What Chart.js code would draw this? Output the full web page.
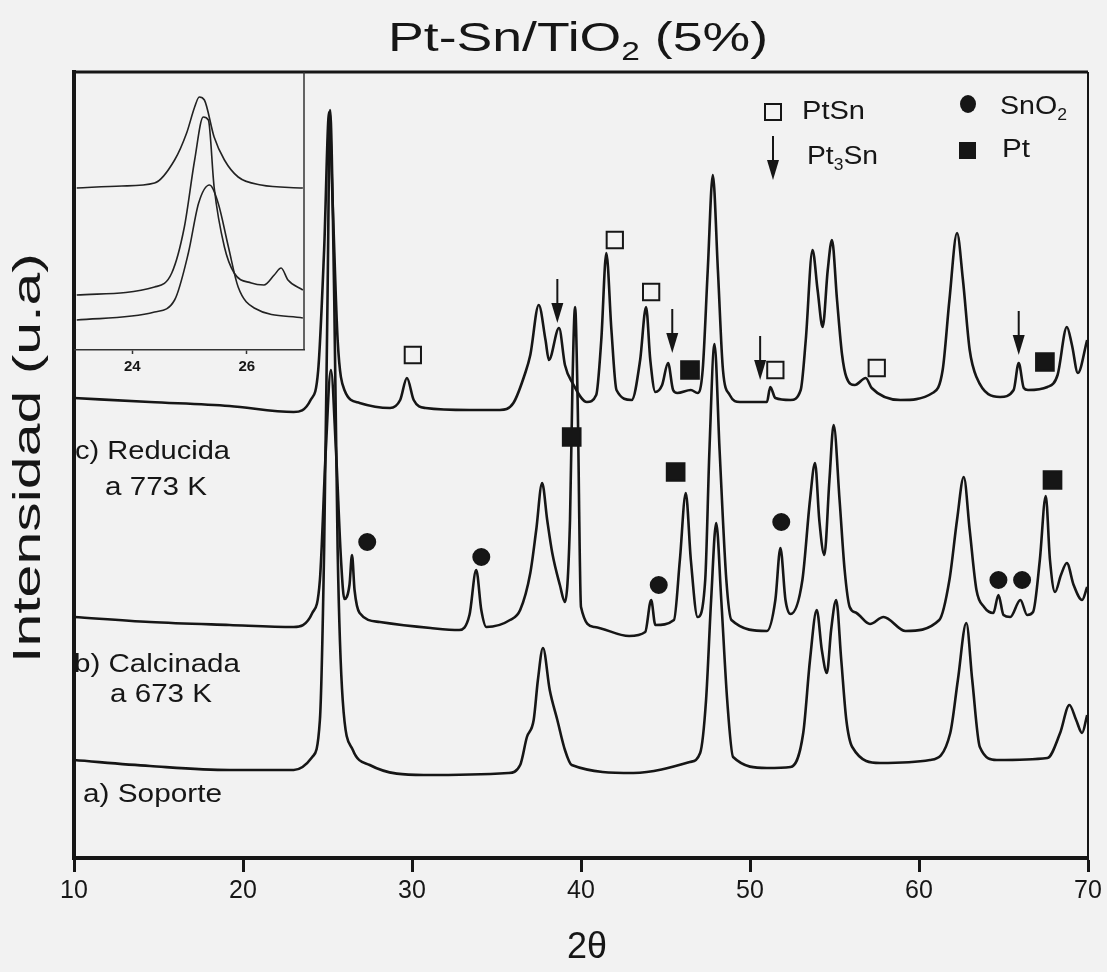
<!DOCTYPE html>
<html>
<head>
<meta charset="utf-8">
<script src="https://cdn.jsdelivr.net/npm/chart.js@4.4.0/dist/chart.umd.min.js"></script>
<style>
  html, body { margin: 0; padding: 0; background: #f2f2f2; }
  #wrap { position: relative; width: 1107px; height: 972px; overflow: hidden; }
  #main { position: absolute; left: 0; top: 0; }
  #inset { position: absolute; left: 73px; top: 72px; }
</style>
</head>
<body>
<div id="wrap">
  <canvas id="main" width="1107" height="972"></canvas>
  <canvas id="inset" width="232" height="310"></canvas>
</div>
<script>
// 2theta (deg) / intensity (a.u., traces stacked with offsets)
const reducida = [
  [10.0,460],[14.5,456],[19.2,452],[23.0,446],[24.0,458],[24.45,488],[24.8,608],[25.1,746],
  [25.3,658],[25.6,518],[26.0,468],[26.9,455],[28.7,450],[29.3,458],[29.7,480],[30.1,458],
  [30.8,450],[33.4,448],[35.2,448],[36.0,455],[36.7,485],[37.0,503],[37.5,553],[37.9,518],
  [38.1,498],[38.7,530],[39.05,493],[39.5,475],[40.35,456],[40.9,463],[41.2,518],[41.5,605],
  [41.8,528],[42.1,468],[43.0,458],[43.5,498],[43.85,551],[44.1,498],[44.4,466],[44.8,473],
  [45.15,495],[45.45,468],[45.7,465],[46.5,468],[46.9,465],[47.2,488],[47.5,588],[47.8,683],
  [48.1,588],[48.4,488],[48.8,463],[49.4,456],[51.0,456],[51.2,471],[51.5,460],[52.4,458],
  [53.0,468],[53.3,518],[53.7,608],[54.0,568],[54.3,531],[54.6,588],[54.85,618],[55.15,558],
  [55.45,503],[55.7,481],[56.2,473],[56.85,480],[57.2,470],[58.9,458],[60.8,465],[61.4,488],
  [61.8,558],[62.25,625],[62.6,578],[63.0,508],[63.4,481],[64.8,461],[65.6,468],[65.9,495],
  [66.2,470],[66.45,468],[67.6,471],[68.2,483],[68.75,531],[69.05,513],[69.4,485],[69.95,518]
];
const calcinada = [
  [10.0,241],[14.5,236],[19.2,233],[23.0,231],[24.1,245],[24.55,278],[24.9,408],[25.2,488],
  [25.5,408],[25.8,298],[26.0,259],[26.3,273],[26.45,303],[26.6,268],[26.9,245],[28.1,236],
  [31.1,230],[32.8,228],[33.4,243],[33.8,288],[34.1,248],[34.4,231],[35.8,238],[36.4,248],
  [37.0,285],[37.35,328],[37.7,375],[38.0,338],[38.3,305],[38.75,273],[39.05,256],[39.35,338],
  [39.5,478],[39.65,551],[39.8,458],[40.0,251],[40.8,231],[42.85,222],[43.8,226],[44.15,258],
  [44.4,233],[45.5,238],[45.85,298],[46.2,365],[46.5,298],[46.9,241],[47.35,278],[47.6,408],
  [47.9,514],[48.2,408],[48.6,278],[48.9,238],[51.0,227],[51.5,258],[51.8,310],[52.1,258],
  [52.4,244],[53.1,278],[53.55,358],[53.85,395],[54.1,338],[54.4,303],[54.7,378],[54.95,433],
  [55.3,358],[55.6,288],[55.9,251],[56.3,245],[57.1,234],[57.9,241],[59.2,227],[61.2,238],
  [61.8,278],[62.25,338],[62.65,381],[63.0,328],[63.4,268],[63.85,251],[64.4,245],[64.7,263],
  [65.0,243],[65.4,241],[66.0,258],[66.4,243],[66.75,246],[67.15,298],[67.5,362],[67.75,298],
  [68.05,266],[68.4,283],[68.75,295],[69.15,273],[69.65,258],[69.95,271]
];
const soporte = [
  [10.0,98],[14.5,92],[19.2,88],[23.0,88],[24.1,101],[24.55,138],[24.8,308],[25.0,558],
  [25.15,748],[25.4,558],[25.6,308],[25.9,158],[26.5,108],[27.5,93],[30.7,83],[35.7,85],
  [36.4,93],[36.8,121],[37.2,138],[37.45,178],[37.75,210],[38.15,168],[38.6,138],[39.05,108],
  [39.45,93],[43.1,85],[46.45,96],[47.05,105],[47.4,158],[47.7,258],[48.0,335],[48.3,258],
  [48.65,158],[49.0,101],[51.0,90],[52.4,91],[53.15,125],[53.55,198],[53.95,248],[54.25,208],
  [54.55,185],[54.8,228],[55.1,258],[55.4,198],[55.7,138],[56.05,111],[57.7,95],[60.65,98],
  [61.85,125],[62.3,178],[62.8,235],[63.15,178],[63.6,111],[64.6,98],[67.6,100],[68.35,125],
  [68.9,153],[69.3,138],[69.65,125],[69.95,143]
];

// phase markers (2theta, intensity)
const ptsnMarks = [[30.05,503],[42.0,618],[44.15,566],[51.5,488],[57.5,490]];
const ptMarks = [[39.45,421],[45.6,386],[46.45,488],[67.45,496],[67.9,378]];
const sno2Marks = [[27.35,316],[34.1,301],[44.6,273],[51.85,336],[64.7,278],[66.1,278]];
const pt3snArrows = [[38.6,535],[45.4,505],[50.6,478],[65.9,503]];

const xTicks = [10, 20, 30, 40, 50, 60, 70];

// inset: zoom of the anatase (101) peak
const insetReducida = [
  [23.03,162],[23.82,164],[24.39,167],[24.74,190],[24.95,217],[25.09,243],[25.17,253],[25.26,250],
  [25.43,213],[25.61,190],[25.85,173],[26.25,165],[26.98,162]
];
const insetCalcinada = [
  [23.03,55],[24.39,63],[24.69,77],[24.91,123],[25.09,190],[25.24,233],[25.33,230],[25.43,163],
  [25.61,103],[25.78,77],[26.08,67],[26.3,65],[26.48,75],[26.6,82],[26.72,70],[26.98,60]
];
const insetSoporte = [
  [23.03,30],[24.39,38],[24.74,50],[24.98,97],[25.16,147],[25.35,165],[25.5,147],[25.68,103],
  [25.85,63],[26.13,42],[26.98,32]
];
const insetTicks = [24, 26];

const INK = '#161616';
const PAPER = '#f2f2f2';
const FONT = '"Liberation Sans", Arial, sans-serif';

const toXY = arr => arr.map(p => ({x: p[0], y: p[1]}));

// text squeezed/stretched to the width it has in the scan, with optional subscripts
function drawRich(ctx, parts, x, y, size, width, align) {
  let natural = 0;
  for (const p of parts) {
    ctx.font = `${p.sub ? Math.round(size * 0.62) : size}px ${FONT}`;
    natural += ctx.measureText(p.t).width;
  }
  const k = width ? width / natural : 1;
  const start = align === 'center' ? x - natural * k / 2 : x;
  ctx.save();
  ctx.translate(start, y);
  ctx.scale(k, 1);
  ctx.fillStyle = INK;
  ctx.textBaseline = 'middle';
  ctx.textAlign = 'left';
  let cx = 0;
  for (const p of parts) {
    ctx.font = `${p.sub ? Math.round(size * 0.62) : size}px ${FONT}`;
    ctx.fillText(p.t, cx, p.sub ? size * 0.34 : 0);
    cx += ctx.measureText(p.t).width;
  }
  ctx.restore();
}

function drawArrow(ctx, x, tipY) {
  ctx.save();
  ctx.strokeStyle = INK;
  ctx.fillStyle = INK;
  ctx.lineWidth = 2;
  ctx.beginPath();
  ctx.moveTo(x, tipY - 44);
  ctx.lineTo(x, tipY - 16);
  ctx.stroke();
  ctx.beginPath();
  ctx.moveTo(x - 6, tipY - 20);
  ctx.lineTo(x + 6, tipY - 20);
  ctx.lineTo(x, tipY);
  ctx.closePath();
  ctx.fill();
  ctx.restore();
}

const decor = {
  id: 'decor',
  afterDraw(chart) {
    const ctx = chart.ctx;
    const {left, right, top, bottom} = chart.chartArea;
    const xs = chart.scales.x, ys = chart.scales.y;

    // frame: top and right edges
    ctx.save();
    ctx.strokeStyle = INK;
    ctx.lineWidth = 3;
    ctx.beginPath();
    ctx.moveTo(left - 2, top);
    ctx.lineTo(right, top);
    ctx.stroke();
    ctx.lineWidth = 2;
    ctx.beginPath();
    ctx.moveTo(right, top);
    ctx.lineTo(right, bottom);
    ctx.stroke();
    ctx.restore();

    // Pt3Sn arrows
    for (const a of pt3snArrows) {
      drawArrow(ctx, xs.getPixelForValue(a[0]), ys.getPixelForValue(a[1]));
    }

    // key
    ctx.save();
    ctx.strokeStyle = INK;
    ctx.lineWidth = 2;
    ctx.fillStyle = PAPER;
    ctx.fillRect(765, 104, 16, 16);
    ctx.strokeRect(765, 104, 16, 16);
    ctx.fillStyle = INK;
    ctx.fillRect(959, 142, 17, 17);
    ctx.beginPath();
    ctx.ellipse(968, 104, 8, 9, 0, 0, Math.PI * 2);
    ctx.fill();
    ctx.restore();
    drawArrow(ctx, 773, 180);
    drawRich(ctx, [{t: 'PtSn'}], 802, 112, 26, 63);
    drawRich(ctx, [{t: 'Pt'}, {t: '3', sub: true}, {t: 'Sn'}], 807, 157, 26, 71);
    drawRich(ctx, [{t: 'SnO'}, {t: '2', sub: true}], 1000, 107, 26, 67);
    drawRich(ctx, [{t: 'Pt'}], 1002, 150, 26, 28);

    // trace labels
    drawRich(ctx, [{t: 'c) Reducida'}], 75, 452, 26, 155);
    drawRich(ctx, [{t: 'a 773 K'}], 105, 488, 26, 102);
    drawRich(ctx, [{t: 'b) Calcinada'}], 74, 665, 26, 166);
    drawRich(ctx, [{t: 'a 673 K'}], 110, 695, 26, 102);
    drawRich(ctx, [{t: 'a) Soporte'}], 83, 795, 26, 139);

    // titles
    drawRich(ctx, [{t: 'Pt-Sn/TiO'}, {t: '2', sub: true}, {t: ' (5%)'}], 578, 40, 40, 380, 'center');
    drawRich(ctx, [{t: '2θ'}], 587, 948, 36, 40, 'center');
    ctx.save();
    ctx.translate(30, 458);
    ctx.rotate(-Math.PI / 2);
    drawRich(ctx, [{t: 'Intensidad (u.a)'}], 0, 0, 38, 410, 'center');
    ctx.restore();
  }
};

const lineSet = (label, data) => ({
  label, data: toXY(data), type: 'line', borderColor: INK, borderWidth: 2.6,
  pointRadius: 0, cubicInterpolationMode: 'monotone', fill: false, order: 2
});
const markSet = (label, data, style, radius, fillColor) => ({
  label, data: toXY(data), type: 'scatter', pointStyle: style, pointRadius: radius,
  pointBackgroundColor: fillColor, pointBorderColor: INK, pointBorderWidth: 2, order: 1
});

new Chart(document.getElementById('main'), {
  type: 'line',
  data: {
    datasets: [
      lineSet('a) Soporte', soporte),
      lineSet('b) Calcinada a 673 K', calcinada),
      lineSet('c) Reducida a 773 K', reducida),
      markSet('PtSn', ptsnMarks, 'rect', 11.5, PAPER),
      markSet('Pt', ptMarks, 'rect', 12.5, INK),
      markSet('SnO2', sno2Marks, 'circle', 8, INK)
    ]
  },
  options: {
    responsive: false,
    animation: false,
    devicePixelRatio: 1,
    layout: {padding: {top: 72, right: 19, left: 0, bottom: 0}},
    plugins: {legend: {display: false}, tooltip: {enabled: false}},
    scales: {
      x: {
        type: 'linear', min: 10, max: 70,
        afterBuildTicks: s => { s.ticks = xTicks.map(v => ({value: v})); },
        ticks: {color: INK, font: {family: FONT, size: 25}, padding: 4, maxRotation: 0},
        grid: {drawOnChartArea: false, tickLength: 14, tickWidth: 3, tickColor: INK},
        border: {color: INK, width: 4},
        afterFit: s => { s.height = 114; }
      },
      y: {
        type: 'linear', min: 0, max: 786,
        ticks: {display: false},
        grid: {display: false},
        border: {color: INK, width: 4},
        afterFit: s => { s.width = 74; }
      }
    }
  },
  plugins: [decor]
});

const insetFrame = {
  id: 'insetFrame',
  afterDraw(chart) {
    const ctx = chart.ctx;
    const {right, top, bottom} = chart.chartArea;
    ctx.save();
    ctx.strokeStyle = '#333';
    ctx.lineWidth = 1.5;
    ctx.beginPath();
    ctx.moveTo(right, top);
    ctx.lineTo(right, bottom);
    ctx.stroke();
    ctx.restore();
  }
};

const insetLine = (label, data) => ({
  label, data: toXY(data), borderColor: '#222', borderWidth: 1.6,
  pointRadius: 0, cubicInterpolationMode: 'monotone', fill: false
});

new Chart(document.getElementById('inset'), {
  type: 'line',
  data: {
    datasets: [
      insetLine('c', insetReducida),
      insetLine('b', insetCalcinada),
      insetLine('a', insetSoporte)
    ]
  },
  options: {
    responsive: false,
    animation: false,
    devicePixelRatio: 1,
    layout: {padding: {top: 0, right: 1, left: 2, bottom: 0}},
    plugins: {legend: {display: false}, tooltip: {enabled: false}},
    scales: {
      x: {
        type: 'linear', min: 23, max: 27,
        afterBuildTicks: s => { s.ticks = insetTicks.map(v => ({value: v})); },
        ticks: {color: INK, font: {family: FONT, size: 15, weight: 'bold'}, padding: 4, maxRotation: 0},
        grid: {drawOnChartArea: false, tickLength: 4, tickWidth: 1.5, tickColor: '#333'},
        border: {color: '#333', width: 1.5},
        afterFit: s => { s.height = 32; }
      },
      y: {type: 'linear', min: 0, max: 278, display: false}
    }
  },
  plugins: [insetFrame]
});
</script>
</body>
</html>
